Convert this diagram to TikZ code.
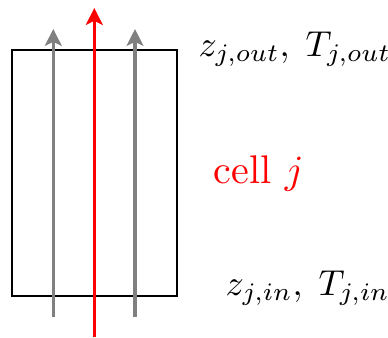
\documentclass[tikz,border=0pt]{standalone}
\usepackage{amsmath}
\usepackage{xcolor}
\usepackage{tikz}
\usetikzlibrary{arrows.meta, positioning}
\tikzset{
    cellbox/.style={rectangle, draw, thin, minimum width=41.25pt, minimum height=61.5pt, inner sep=0pt},
    flow/.style={draw, -{Stealth[length=4.2pt, width=4.2pt, inset=1pt]}, gray, thick},
    mainflow/.style={draw, -{Stealth[length=4.2pt, width=4.2pt, inset=1pt]}, red, thick},
    tag/.style={anchor=base west, inner sep=0pt},
    statetag/.style={tag, scale=0.9}
}
\begin{document}
\begin{tikzpicture}[x=0.25pt, y=-0.25pt]
    \useasboundingbox (0,0) rectangle (388,337);
    % the cell
    \node[cellbox] (cell) at (94.5,173) {};

    % ends of the flow lines
    \coordinate (leftin) at (53.3,316.5);
    \coordinate (leftout) at (53.3,29);
    \coordinate (rightin) at (135,316.5);
    \coordinate (rightout) at (135,29);
    \coordinate (midin) at (94.3,337);
    \coordinate (midout) at (94.3,8);

    \draw[flow] (leftin) -- (leftout);
    \draw[flow] (rightin) -- (rightout);
    \draw[mainflow] (midin) -- (midout);

    % Labels
    \node[statetag] (outlabel) at (198,56) {$z_{j,out},\;T_{j,out}$};
    \node[tag, red] (celllabel) at (213,183) {cell $j$};
    \node[statetag] (inlabel) at (225,295) {$z_{j,in},\;T_{j,in}$};
\end{tikzpicture}
\end{document}
